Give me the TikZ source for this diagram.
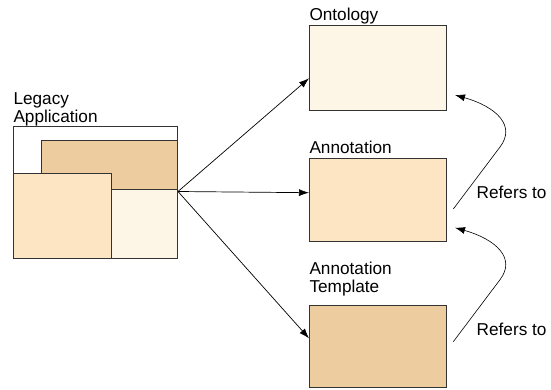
\documentclass[tikz,border=0pt]{standalone}
\usepackage{fontspec}
\setmainfont{Liberation Sans}
\usetikzlibrary{arrows.meta}
\definecolor{cream}{HTML}{FDF5E6}
\definecolor{peach}{HTML}{FDE5C4}
\definecolor{tan}{HTML}{EDCDA0}
\tikzset{
  box/.style={draw=black!80, line width=0.8pt},
  lbl/.style={anchor=base west, inner sep=0pt, font=\fontsize{17.2}{18}\selectfont},
  conn/.style={draw=black, line width=0.7pt, -{Latex[length=10pt,width=7pt]}},
}
\begin{document}
\begin{tikzpicture}[x=1pt,y=-1pt]
\useasboundingbox (0,0) rectangle (551,390);
% legacy application
\draw[box, fill=white] (13.3,126.7) rectangle (177.7,258.3);
\draw[box, fill=tan] (41.7,140.7) rectangle (177.7,189.3);
\draw[box, fill=cream] (111.7,189.3) rectangle (177.7,258.3);
\draw[box, fill=peach] (13.3,173.3) rectangle (111.7,258.3);
\node[lbl] (legL) at (13.3,105) {Legacy};
\node[lbl] (appL) at (13.3,123) {Application};
\coordinate (src) at (178,191.5);
% right boxes
\node[box, fill=cream, minimum width=136.4pt, minimum height=85pt, anchor=north west, inner sep=0pt] (onto) at (309.3,25) {};
\node[box, fill=peach, minimum width=136.4pt, minimum height=83.5pt, anchor=north west, inner sep=0pt] (anno) at (309.3,157.7) {};
\node[box, fill=tan, minimum width=136.4pt, minimum height=82pt, anchor=north west, inner sep=0pt] (tmpl) at (309.3,305) {};
\node[lbl] (ontoL) at (309.3,20.7) {Ontology};
\node[lbl] (annoL) at (309.3,153.3) {Annotation};
\node[lbl] (tmplL1) at (309.3,274) {Annotation};
\node[lbl] (tmplL2) at (309.3,292) {Template};
% connectors
\coordinate (t1) at (309,78.3);
\coordinate (t2) at (309,192.7);
\coordinate (t3) at (309,338.3);
\draw[conn] (src) -- (t1);
\draw[conn] (src) -- (t2);
\draw[conn] (src) -- (t3);
% refers to
\coordinate (r1s) at (453.3,209);
\coordinate (r1m) at (500,147);
\coordinate (r1e) at (455,95);
\draw[conn, line width=0.6pt] (r1s) -- (r1m) .. controls (516,126) and (497,107) .. (r1e);
\coordinate (r2s) at (453.3,341.7);
\coordinate (r2m) at (500,279.7);
\coordinate (r2e) at (455,227.7);
\draw[conn, line width=0.6pt] (r2s) -- (r2m) .. controls (516,258.7) and (497,239.7) .. (r2e);
\node[lbl] (ref1) at (476.5,198.5) {Refers to};
\node[lbl] (ref2) at (476.5,335) {Refers to};
\end{tikzpicture}
\end{document}
